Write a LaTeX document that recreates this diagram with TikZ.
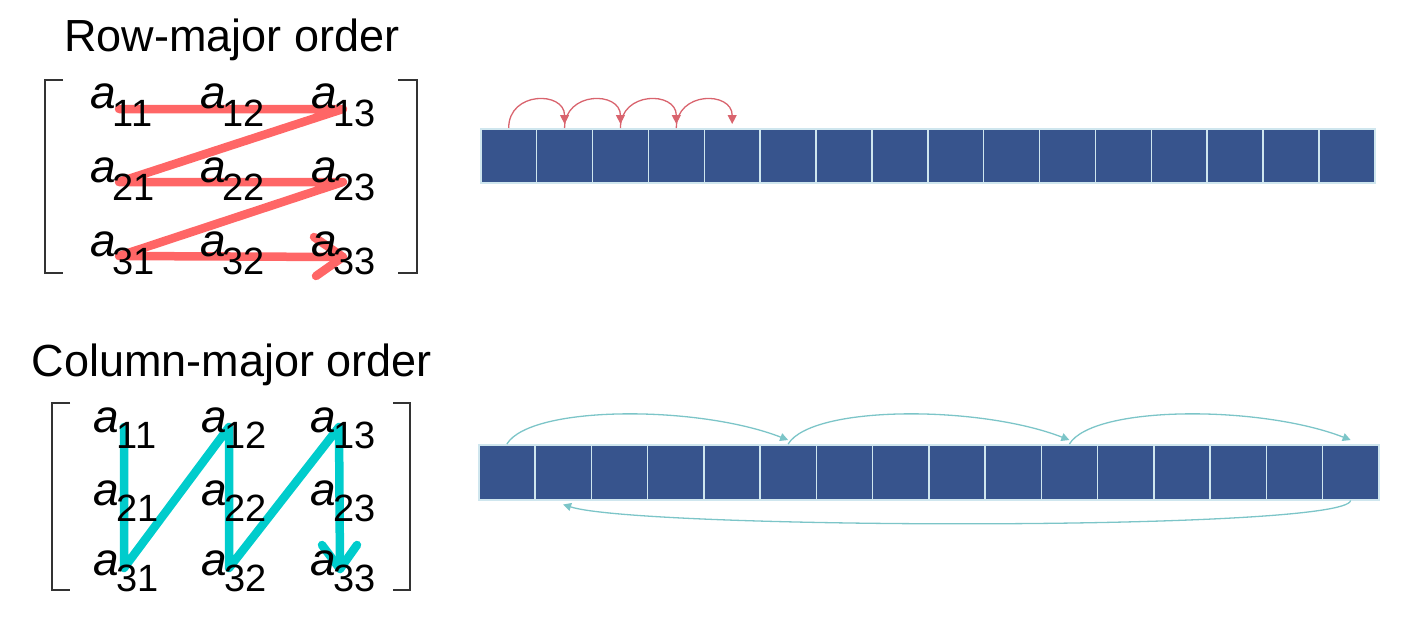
\documentclass[tikz,border=0pt]{standalone}
\usepackage{fontspec}
\setmainfont{Liberation Sans}
\usetikzlibrary{arrows.meta}
\definecolor{cellblue}{HTML}{37548D}
\definecolor{celledge}{HTML}{CFE6EE}
\definecolor{rowred}{HTML}{FF6666}
\definecolor{colteal}{HTML}{00CCCC}
\definecolor{arcred}{HTML}{D9646E}
\definecolor{arcteal}{HTML}{7CC5C8}
\newcommand\melem[3]{{\fontsize{46}{46}\selectfont\itshape a}\kern#3pt\raisebox{-#2pt}{\fontsize{38}{38}\selectfont #1}}
\begin{document}
\begin{tikzpicture}[x=1pt,y=-1pt,
  title/.style={font=\fontsize{45}{45}\selectfont, anchor=base, inner sep=0pt},
  elem/.style={anchor=base west, inner sep=0pt},
  tcell/.style={draw=celledge, line width=1.5pt, fill=cellblue, minimum width=55.875pt, minimum height=54pt, inner sep=0pt, anchor=north west},
  bcell/.style={draw=celledge, line width=1.5pt, fill=cellblue, minimum width=56.25pt, minimum height=55pt, inner sep=0pt, anchor=north west},
  bracket/.style={draw=black!80, line width=1.5pt},
  zig/.style={line width=8.5pt, line cap=round, line join=round},
  redarc/.style={draw=arcred, line width=1.3pt, -{Triangle[length=9pt,width=9pt]}},
  tealarc/.style={draw=arcteal, line width=1.3pt, -{Triangle[length=8pt,width=8pt]}},
]
\useasboundingbox (0,0) rectangle (1421,618);

% ---------- Row-major ----------
\node[title] (rowtitle) at (232,52) {Row-major order};
\draw[bracket] (63,80) -- (45,80) -- (45,273) -- (63,273);
\draw[bracket] (398,80) -- (417,80) -- (417,273) -- (398,273);

\coordinate (r1) at (119,109);
\coordinate (r2) at (343,109);
\coordinate (r3) at (119,182);
\coordinate (r4) at (343,182);
\coordinate (r5) at (119,256);
\coordinate (r6) at (343,257);
\coordinate (rh1) at (314,237);
\coordinate (rh2) at (316,276);
\draw[zig, rowred] (r1) -- (r2) -- (r3) -- (r4) -- (r5) -- (r6);
\draw[zig, rowred] (rh1) -- (r6) -- (rh2);

\node[elem] (ra11) at (90,108) {\melem{11}{18}{-3}};
\node[elem] (ra12) at (200,108) {\melem{12}{18}{-3}};
\node[elem] (ra13) at (311,108) {\melem{13}{18}{-3}};
\node[elem] (ra21) at (90,182) {\melem{21}{18}{-3}};
\node[elem] (ra22) at (200,182) {\melem{22}{18}{-3}};
\node[elem] (ra23) at (311,182) {\melem{23}{18}{-3}};
\node[elem] (ra31) at (90,256) {\melem{31}{18}{-3}};
\node[elem] (ra32) at (200,256) {\melem{32}{18}{-3}};
\node[elem] (ra33) at (311,256) {\melem{33}{18}{-3}};

\foreach \i in {1,...,16}
  \node[tcell] (t\i) at ({480+(\i-1)*55.875},128) {};
\foreach \i/\j in {1/2,2/3,3/4,4/5}
  \draw[redarc] (t\i.north) .. controls +(0,-37) and +(0,-33) .. ([yshift=4pt]t\j.north);

% ---------- Column-major ----------
\node[title] (coltitle) at (232,376) {Column-major order};
\draw[bracket] (70,403) -- (52,403) -- (52,590) -- (70,590);
\draw[bracket] (393,403) -- (410,403) -- (410,590) -- (393,590);

\coordinate (c1) at (124,427);
\coordinate (c2) at (124,568);
\coordinate (c3) at (229,427);
\coordinate (c4) at (229,568);
\coordinate (c5) at (339,427);
\coordinate (c6) at (340,569);
\coordinate (ch1) at (322,545);
\coordinate (ch2) at (357,545);
\draw[zig, colteal] (c1) -- (c2) -- (c3) -- (c4) -- (c5) -- (c6);
\draw[zig, colteal] (ch1) -- (c6) -- (ch2);

\node[elem] (ca11) at (93,432) {\melem{11}{16}{-2}};
\node[elem] (ca12) at (201,432) {\melem{12}{16}{-2}};
\node[elem] (ca13) at (310,432) {\melem{13}{16}{-2}};
\node[elem] (ca21) at (93,505) {\melem{21}{16}{-2}};
\node[elem] (ca22) at (201,505) {\melem{22}{16}{-2}};
\node[elem] (ca23) at (310,505) {\melem{23}{16}{-2}};
\node[elem] (ca31) at (93,575) {\melem{31}{16}{-2}};
\node[elem] (ca32) at (201,575) {\melem{32}{16}{-2}};
\node[elem] (ca33) at (310,575) {\melem{33}{16}{-2}};

\foreach \i in {1,...,16}
  \node[bcell] (b\i) at ({478+(\i-1)*56.25},444) {};
\foreach \i/\j in {1/6,6/11,11/16}
  \draw[tealarc] (b\i.north) .. controls +(24,-39) and +(-90,-35) .. ([yshift=4pt]b\j.north);
\draw[tealarc] (b16.south) .. controls +(-5,31) and +(78,25) .. ([yshift=-4pt]b2.south);
\end{tikzpicture}
\end{document}
